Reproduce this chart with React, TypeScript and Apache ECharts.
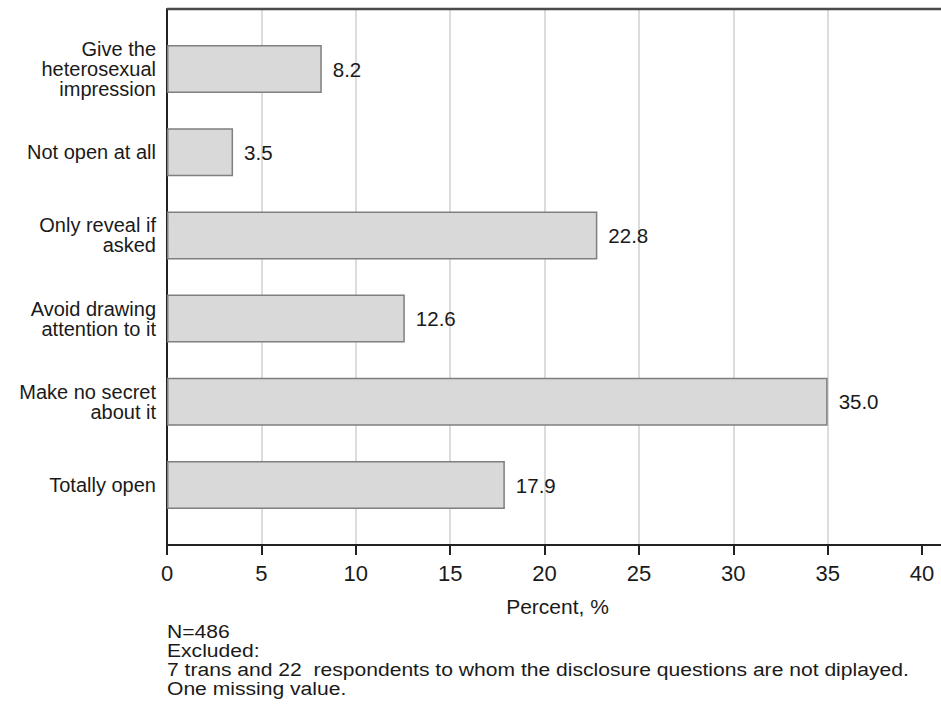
import React, { useEffect, useRef } from "react";
import * as echarts from "echarts";

const categories = [
  "Give the\nheterosexual\nimpression",
  "Not open at all",
  "Only reveal if\nasked",
  "Avoid drawing\nattention to it",
  "Make no secret\nabout it",
  "Totally open",
];
const values = [8.2, 3.5, 22.8, 12.6, 35.0, 17.9];
const xTicks = { min: 0, max: 40, interval: 5 };
const axisTitle = "Percent, %";
const footnote = [
  "N=486",
  "Excluded:",
  "7 trans and 22  respondents to whom the disclosure questions are not diplayed.",
  "One missing value.",
];

const FONT = "'Liberation Sans', Arial, Helvetica, sans-serif";
const TXT = "#1a1a1a";

export default function App() {
  const ref = useRef<HTMLDivElement>(null);
  useEffect(() => {
    if (!ref.current) return;
    const chart = echarts.init(ref.current, null, { renderer: "svg" });
    const gridLeft = 167;
    const gridRight = 19;
    chart.setOption({
      animation: false,
      backgroundColor: "#ffffff",
      textStyle: { fontFamily: FONT },
      grid: [
        { left: gridLeft, right: gridRight, top: 9, height: 536, containLabel: false },
        { left: gridLeft, right: gridRight, top: 27.4, height: 499.2, containLabel: false },
      ],
      xAxis: [
        {
          type: "value",
          gridIndex: 0,
          min: xTicks.min,
          max: xTicks.max,
          interval: xTicks.interval,
          axisLine: { show: true, lineStyle: { color: "#222", width: 2 } },
          axisTick: { show: true, length: 10, lineStyle: { color: "#222", width: 2 } },
          axisLabel: { fontSize: 22, color: TXT, margin: 17, fontFamily: FONT },
          splitLine: { show: true, showMaxLine: false, lineStyle: { color: "#dcdcdc", width: 2 } },
          name: axisTitle,
          nameLocation: "middle",
          nameGap: 51,
          nameTextStyle: { fontSize: 21, color: TXT, fontFamily: FONT, padding: [0, 0, 0, 26] },
        },
        {
          type: "value",
          gridIndex: 1,
          min: xTicks.min,
          max: xTicks.max,
          show: false,
          splitLine: { show: false },
        },
      ],
      yAxis: [
        {
          type: "category",
          gridIndex: 0,
          data: [""],
          axisLine: { show: true, lineStyle: { color: "#222", width: 2 } },
          axisTick: { show: false },
          axisLabel: { show: false },
        },
        {
          type: "category",
          gridIndex: 1,
          inverse: true,
          data: categories,
          axisLine: { show: false },
          axisTick: { show: false },
          axisLabel: {
            fontSize: 20,
            lineHeight: 20,
            color: TXT,
            margin: 11,
            align: "right",
            fontFamily: FONT,
          },
        },
      ],
      series: [
        {
          type: "bar",
          xAxisIndex: 1,
          yAxisIndex: 1,
          data: values,
          barWidth: 48,
          itemStyle: { color: "#d9d9d9", borderColor: "#7f7f7f", borderWidth: 1.5 },
          label: {
            show: true,
            position: "right",
            distance: 11,
            fontSize: 20.5,
            color: TXT,
            fontFamily: FONT,
            formatter: (p: any) => Number(p.value).toFixed(1),
          },
        },
      ],
      graphic: [
        {
          type: "line",
          shape: { x1: gridLeft, y1: 9, x2: 941, y2: 9 },
          style: { stroke: "#4a4a4a", lineWidth: 2.5 },
          z: 10,
        },
        {
          type: "line",
          shape: { x1: 941 - gridRight, y1: 545, x2: 941, y2: 545 },
          style: { stroke: "#222", lineWidth: 2 },
          z: 10,
        },
        {
          type: "text",
          left: gridLeft,
          top: 622,
          scaleX: 1.11,
          style: {
            text: footnote.join("\n"),
            fontSize: 19,
            lineHeight: 19,
            fill: TXT,
            fontFamily: FONT,
          },
        },
      ],
    });
    return () => chart.dispose();
  }, []);
  return (
    <div
      ref={ref}
      style={{ position: "fixed", left: 0, top: 0, width: 941, height: 708, background: "#fff" }}
    />
  );
}
